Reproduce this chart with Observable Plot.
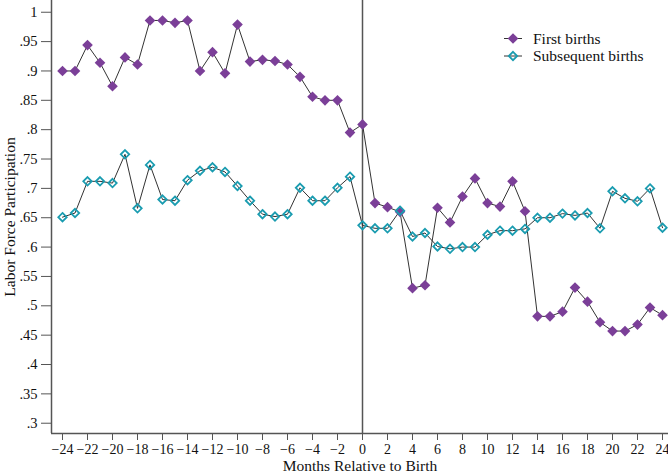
<!DOCTYPE html>
<html>
<head>
<meta charset="utf-8">
<script src="https://cdn.jsdelivr.net/npm/d3@7"></script>
<script src="https://cdn.jsdelivr.net/npm/@observablehq/plot@0.6"></script>
<style>
  body { margin: 0; background: #fff; }
  #wrap { position: relative; width: 668px; height: 473px; }
  #legend { position: absolute; left: 0; top: 0; }
  #wrap svg text { font-size: 15.5px !important; font-family: 'Liberation Serif', serif; }
  #wrap svg g[aria-label="x-axis tick label"] text { font-size: 14px !important; }
  #wrap svg g[aria-label="y-axis tick label"] text { font-size: 14.5px !important; }
</style>
</head>
<body>
<div id="wrap"></div>
<script>
const months = d3.range(-24, 25);
const firstBirths = [
  0.900, 0.900, 0.944, 0.914, 0.874, 0.923, 0.911, 0.986, 0.986, 0.982, 0.986, 0.900, 0.932,
  0.896, 0.979, 0.916, 0.919, 0.917, 0.911, 0.890, 0.856, 0.850, 0.850, 0.795,
  0.809, 0.675, 0.668, 0.660, 0.530, 0.535, 0.667, 0.642, 0.686, 0.717, 0.675, 0.669, 0.712,
  0.661, 0.482, 0.482, 0.490, 0.531, 0.507, 0.472, 0.457, 0.457, 0.468, 0.497, 0.484
];
const subsequentBirths = [
  0.651, 0.658, 0.712, 0.712, 0.709, 0.758, 0.666, 0.740, 0.681, 0.679, 0.714, 0.730, 0.736,
  0.728, 0.704, 0.679, 0.656, 0.652, 0.656, 0.701, 0.679, 0.679, 0.701, 0.720,
  0.637, 0.632, 0.632, 0.662, 0.618, 0.624, 0.601, 0.597, 0.600, 0.600, 0.621, 0.628, 0.628,
  0.631, 0.650, 0.650, 0.657, 0.654, 0.658, 0.632, 0.695, 0.683, 0.678, 0.700, 0.633
];
const xTicks = d3.range(-24, 25, 2);
const yTicks = d3.range(0.3, 1.0001, 0.05).map(v => +v.toFixed(2));
const seriesNames = ["First births", "Subsequent births"];
const purple = "#7b3f98";
const cyan = "#1a9cb0";
const axisColor = "#555";

const first = months.map((m, i) => ({m, v: firstBirths[i]}));
const subs = months.map((m, i) => ({m, v: subsequentBirths[i]}));

const xDomain = [-24.88, 24.48];
const yDomain = [0.2825, 1.02];
const fmtY = d => d === 1 ? "1" : d3.format(".2~f")(d).replace(/^0/, "");
const fmtX = d => d < 0 ? "\u2212" + (-d) : String(d);

const chart = Plot.plot({
  width: 668,
  height: 473,
  marginLeft: 51,
  marginRight: 0,
  marginTop: 0,
  marginBottom: 40,
  style: {fontFamily: "'Liberation Serif', serif", fontSize: "15.5px", color: "#111", background: "#fff", overflow: "visible"},
  x: {domain: xDomain},
  y: {domain: yDomain},
  marks: [
    Plot.axisY(yTicks, {tickFormat: fmtY, tickSize: 10, tickPadding: 4, stroke: axisColor,
      label: "Labor Force Participation", labelAnchor: "center", labelArrow: "none", labelOffset: 48}),
    Plot.axisX(xTicks, {tickFormat: fmtX, tickSize: 7, tickPadding: 4, stroke: axisColor,
      label: "Months Relative to Birth", labelAnchor: "center", labelArrow: "none", labelOffset: 37}),
    Plot.ruleX([xDomain[0]], {stroke: axisColor, strokeWidth: 1.5}),
    Plot.ruleY([yDomain[0]], {stroke: axisColor, strokeWidth: 1.5}),
    Plot.ruleX([0], {stroke: axisColor, strokeWidth: 1.5}),
    Plot.line(first, {x: "m", y: "v", stroke: "#333", strokeWidth: 1}),
    Plot.line(subs, {x: "m", y: "v", stroke: "#333", strokeWidth: 1}),
    Plot.dot(first, {x: "m", y: "v", symbol: "diamond2", r: 4.8, fill: purple, stroke: "none"}),
    Plot.dot(subs, {x: "m", y: "v", symbol: "diamond2", r: 3.8, fill: "none", stroke: cyan, strokeWidth: 1.8})
  ]
});
document.getElementById("wrap").appendChild(chart);

// legend
const leg = d3.select("#wrap").append("svg").attr("id", "legend")
  .attr("width", 668).attr("height", 80);
const legendRows = [
  {name: seriesNames[0], fill: purple, stroke: "none", sw: 0, s: 72},
  {name: seriesNames[1], fill: "none", stroke: cyan, sw: 1.8, s: 45}
];
legendRows.forEach((row, i) => {
  const cy = 38.5 + i * 17.5;
  leg.append("line").attr("x1", 504).attr("x2", 522).attr("y1", cy).attr("y2", cy)
    .attr("stroke", "#333").attr("stroke-width", 1);
  leg.append("path").attr("d", d3.symbol(d3.symbolDiamond2, row.s)())
    .attr("transform", `translate(513,${cy})`)
    .attr("fill", row.fill).attr("stroke", row.stroke).attr("stroke-width", row.sw);
  leg.append("text").attr("x", 533).attr("y", cy).attr("dy", "0.35em")
    .attr("fill", "#111").text(row.name);
});
</script>
</body>
</html>
